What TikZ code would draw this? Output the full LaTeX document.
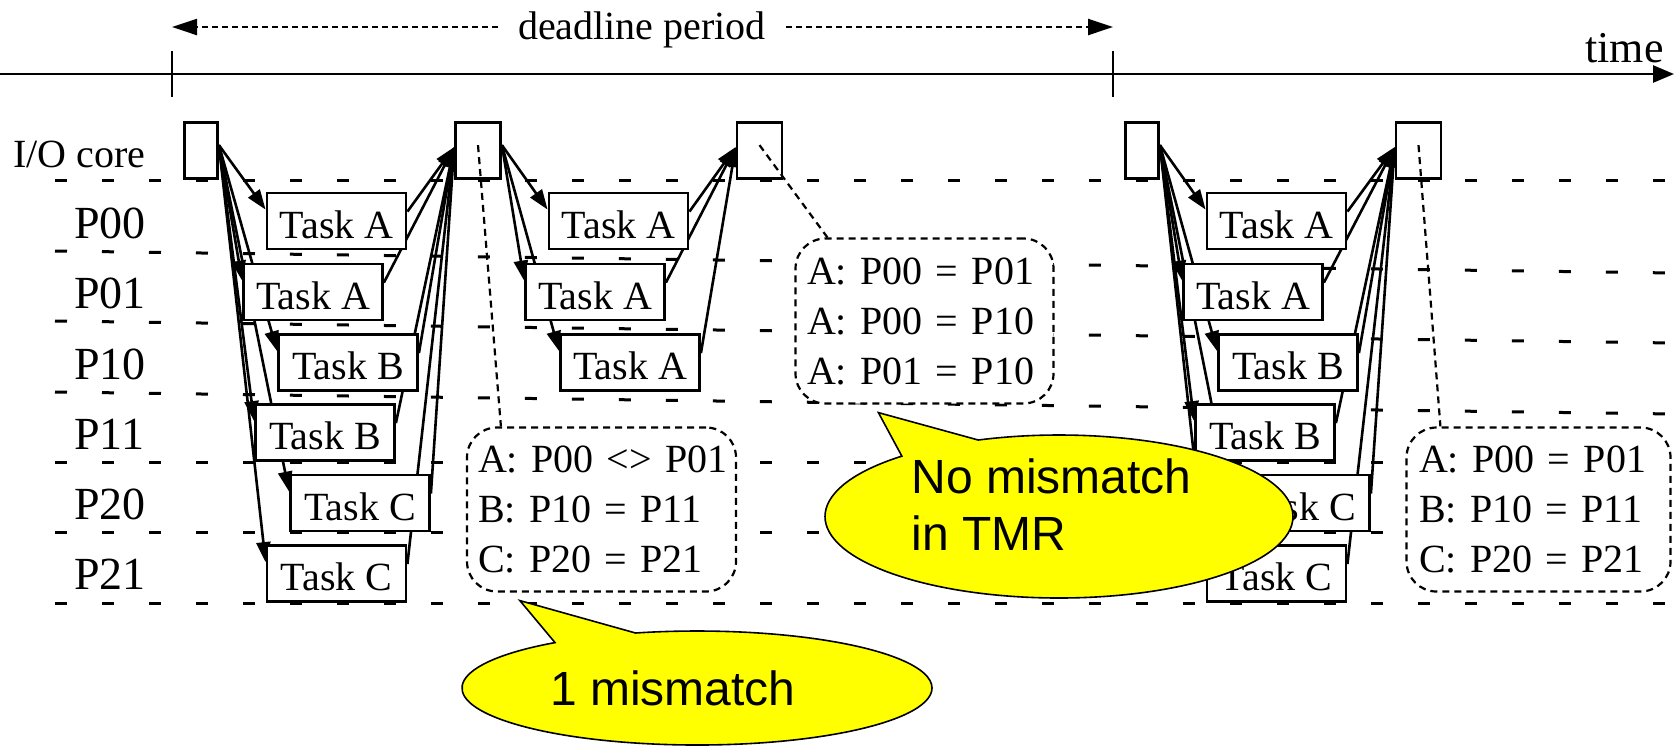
\documentclass[tikz,border=0pt]{standalone}
\usepackage{fontspec}
\setmainfont{Liberation Serif}
\newfontfamily\calloutfont{Liberation Sans}
\usetikzlibrary{arrows.meta,shapes.callouts}
\pgfdeclarelayer{rows}
\pgfdeclarelayer{links}
\pgfsetlayers{rows,links,main}
\definecolor{calloutyellow}{RGB}{255,255,0}
\frenchspacing

\tikzset{
  task/.style={draw, line width=1.4pt, fill=white, minimum width=69.5pt,
    minimum height=28pt, inner sep=0pt, text height=17pt, text depth=0pt,
    font=\fontsize{20pt}{24pt}\selectfont},
  iobox/.style={draw, line width=1.4pt, fill=white, minimum width=16.5pt,
    minimum height=28pt, inner sep=0pt},
  iowide/.style={iobox, minimum width=22.5pt},
  flow/.style={line width=1.3pt, -{Triangle[length=10pt,width=7pt]}},
  rowline/.style={line width=1.5pt, dash pattern=on 6pt off 17.5pt},
  rowlabel/.style={anchor=base west, inner sep=0pt, font=\fontsize{23pt}{27pt}\selectfont},
  cmpbox/.style={draw, line width=1.1pt, dash pattern=on 3.5pt off 2.5pt,
    rounded corners=15pt, fill=white, inner sep=0pt, align=left,
    font=\fontsize{20pt}{25pt}\selectfont},
  probe/.style={line width=1.1pt, dash pattern=on 3.5pt off 2.5pt},
  period/.style={line width=1.2pt, dash pattern=on 3pt off 2pt,
    -{Triangle[length=12.5pt,width=8pt]}},
  bubble/.style={ellipse callout, draw, line width=0.8pt, fill=calloutyellow,
    callout pointer arc=22, inner sep=0pt,
    font=\calloutfont\fontsize{24pt}{28.5pt}\selectfont},
}

\begin{document}
\begin{tikzpicture}[x=0.5pt, y=-0.5pt]
\useasboundingbox (0,0) rectangle (1674,746);

% ---- processor rows ----
\begin{pgfonlayer}{rows}
  \draw[rowline] (55,180) -- (1674,180);
  \draw[rowline] (55,251) -- (1674,273);
  \draw[rowline] (55,321) -- (1674,343);
  \draw[rowline] (55,392) -- (1674,414);
  \draw[rowline] (55,462) -- (1674,462);
  \draw[rowline] (55,532) -- (1674,532);
  \draw[rowline] (55,603) -- (1674,603);
\end{pgfonlayer}

\node[anchor=base west, inner sep=0pt, font=\fontsize{20pt}{24pt}\selectfont] (lio) at (13,167) {I/O core};
\node[rowlabel] (l00) at (74,238) {P00};
\node[rowlabel] (l01) at (74,308) {P01};
\node[rowlabel] (l10) at (74,379) {P10};
\node[rowlabel] (l11) at (74,449) {P11};
\node[rowlabel] (l20) at (74,519) {P20};
\node[rowlabel] (l21) at (74,589) {P21};

% ---- time axis ----
\coordinate (axL) at (0,74);
\coordinate (axR) at (1674,74);
\coordinate (tick1) at (172,74);
\coordinate (tick2) at (1113,74);
\draw[line width=1.3pt, -{Triangle[length=10.5pt,width=8.5pt]}] (axL) -- (axR);
\draw[line width=1.3pt] ([yshift=11.5pt]tick1) -- ([yshift=-11.5pt]tick1);
\draw[line width=1.3pt] ([yshift=11.5pt]tick2) -- ([yshift=-11.5pt]tick2);
\node[anchor=base east, inner sep=0pt, font=\fontsize{22pt}{26pt}\selectfont] (tlabel) at (1664,62) {time};

% ---- deadline period ----
\coordinate (dlL) at (172,27);
\coordinate (dlR) at (1113,27);
\node[anchor=base, inner xsep=10pt, inner ysep=0pt, font=\fontsize{20pt}{24pt}\selectfont] (dl) at (642,39) {deadline period};
\draw[period] (dl.west |- dlL) -- (dlL);
\draw[period] (dl.east |- dlR) -- (dlR);

% ---- I/O core slots ----
\node[iobox]  (io1) at (201,150.5) {};
\node[iowide] (io2) at (478,150.5) {};
\node[iowide] (io3) at (759.5,150.5) {};
\node[iobox]  (io4) at (1142,150.5) {};
\node[iowide] (io5) at (1418.5,150.5) {};

% ---- tasks, first period ----
\node[task] (g1a) at (336.5,221) {Task A};
\node[task] (g1b) at (313,292) {Task A};
\node[task] (g1c) at (348,362.5) {Task B};
\node[task] (g1d) at (325,432.5) {Task B};
\node[task] (g1e) at (360,503) {Task C};
\node[task] (g1f) at (336.5,573.5) {Task C};

% ---- tasks, re-execution ----
\node[task] (g2a) at (618.5,221) {Task A};
\node[task] (g2b) at (595,292) {Task A};
\node[task] (g2c) at (630,362.5) {Task A};

% ---- tasks, next period ----
\node[task] (g3a) at (1276.5,221) {Task A};
\node[task] (g3b) at (1253,292) {Task A};
\node[task] (g3c) at (1288,362.5) {Task B};
\node[task] (g3d) at (1265,432.5) {Task B};
\node[task] (g3e) at (1300,503) {Task C};
\node[task] (g3f) at (1276.5,573.5) {Task C};

% ---- dispatch and collect ----
\begin{pgfonlayer}{links}
  \foreach \t in {g1a,g1b,g1c,g1d,g1e,g1f}{
    \draw[flow] ([yshift=-12pt]io1.north east) -- ([yshift=-9pt]\t.north west);
    \draw[flow] ([yshift=-10pt]\t.north east) -- ([yshift=-13pt]io2.north west);
  }
  \foreach \t in {g2a,g2b,g2c}{
    \draw[flow] ([yshift=-12pt]io2.north east) -- ([yshift=-9pt]\t.north west);
    \draw[flow] ([yshift=-10pt]\t.north east) -- ([yshift=-13pt]io3.north west);
  }
  \foreach \t in {g3a,g3b,g3c,g3d,g3e,g3f}{
    \draw[flow] ([yshift=-12pt]io4.north east) -- ([yshift=-9pt]\t.north west);
    \draw[flow] ([yshift=-10pt]\t.north east) -- ([yshift=-13pt]io5.north west);
  }
\end{pgfonlayer}

% ---- comparison results ----
\node[cmpbox, minimum width=134.5pt, minimum height=82pt, text width=123.5pt] (cmp1) at (601.5,509.5)
  {A:~P00~<>~P01\\B: P10 = P11\\C: P20 = P21};
\node[cmpbox, minimum width=129pt, minimum height=82.5pt, text width=117.5pt] (cmp2) at (924.5,321)
  {A: P00 = P01\\A: P00 = P10\\A: P01 = P10};
\node[cmpbox, minimum width=132pt, minimum height=82pt, text width=119.5pt] (cmp3) at (1538.5,509.5)
  {A: P00 = P01\\B: P10 = P11\\C: P20 = P21};

\draw[probe] ([yshift=-12pt]io2.north) -- ([xshift=17.5pt]cmp1.north west);
\draw[probe] ([yshift=-12pt]io3.north) -- ([xshift=16.5pt]cmp2.north west);
\draw[probe] ([yshift=-12pt]io5.north) -- ([xshift=17.5pt]cmp3.north west);

% ---- callouts ----
\node[bubble, minimum width=235pt, minimum height=57pt,
      callout absolute pointer={([xshift=27pt,yshift=-4pt]cmp1.south west)}]
  (cb1) at (697,688) {1 mismatch\hspace*{24pt}};
\node[bubble, align=left, minimum width=234pt, minimum height=81.5pt,
      callout absolute pointer={([xshift=42pt,yshift=-4pt]cmp2.south west)}]
  (cb2) at (1059,516.5) {No mismatch\hspace*{7.5pt}\\in TMR\rule[-11.5pt]{0pt}{11.5pt}};

\end{tikzpicture}
\end{document}
